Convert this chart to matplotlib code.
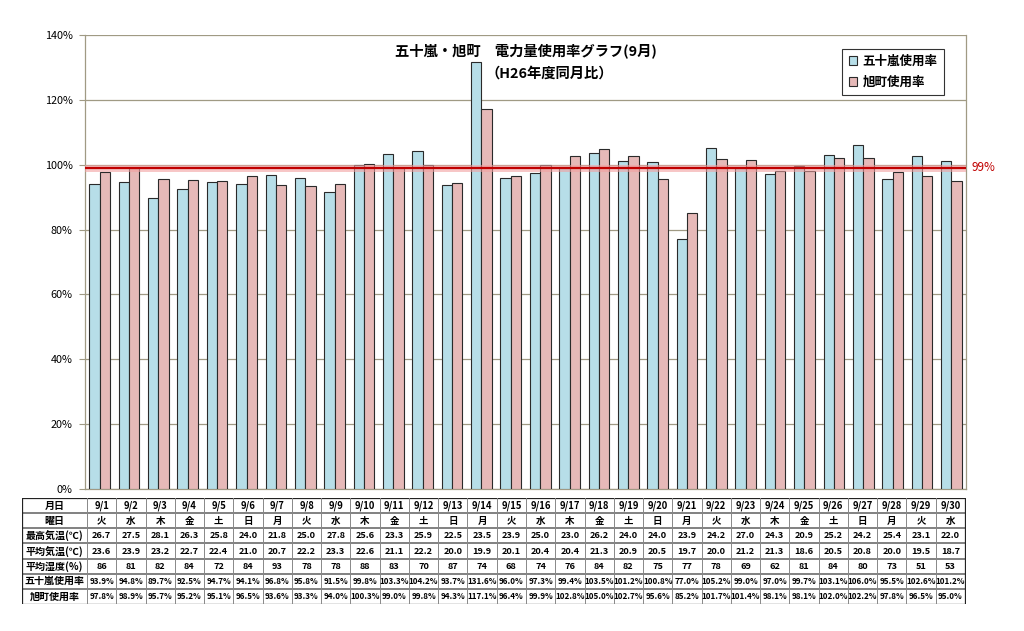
import matplotlib
matplotlib.use("Agg")
import matplotlib.pyplot as plt
import numpy as np

plt.rcParams['font.family'] = ['Noto Sans CJK JP', 'DejaVu Sans']

dates = [f"9/{d}" for d in range(1, 31)]
weekdays = ["火", "水", "木", "金", "土", "日", "月", "火", "水", "木",
            "金", "土", "日", "月", "火", "水", "木", "金", "土", "日",
            "月", "火", "水", "木", "金", "土", "日", "月", "火", "水"]
max_temp = [26.7, 27.5, 28.1, 26.3, 25.8, 24.0, 21.8, 25.0, 27.8, 25.6,
            23.3, 25.9, 22.5, 23.5, 23.9, 25.0, 23.0, 26.2, 24.0, 24.0,
            23.9, 24.2, 27.0, 24.3, 20.9, 25.2, 24.2, 25.4, 23.1, 22.0]
avg_temp = [23.6, 23.9, 23.2, 22.7, 22.4, 21.0, 20.7, 22.2, 23.3, 22.6,
            21.1, 22.2, 20.0, 19.9, 20.1, 20.4, 20.4, 21.3, 20.9, 20.5,
            19.7, 20.0, 21.2, 21.3, 18.6, 20.5, 20.8, 20.0, 19.5, 18.7]
humidity = [86, 81, 82, 84, 72, 84, 93, 78, 78, 88,
            83, 70, 87, 74, 68, 74, 76, 84, 82, 75,
            77, 78, 69, 62, 81, 84, 80, 73, 51, 53]
igarashi = [93.9, 94.8, 89.7, 92.5, 94.7, 94.1, 96.8, 95.8, 91.5, 99.8,
            103.3, 104.2, 93.7, 131.6, 96.0, 97.3, 99.4, 103.5, 101.2, 100.8,
            77.0, 105.2, 99.0, 97.0, 99.7, 103.1, 106.0, 95.5, 102.6, 101.2]
asahi = [97.8, 98.9, 95.7, 95.2, 95.1, 96.5, 93.6, 93.3, 94.0, 100.3,
         99.0, 99.8, 94.3, 117.1, 96.4, 99.9, 102.8, 105.0, 102.7, 95.6,
         85.2, 101.7, 101.4, 98.1, 98.1, 102.0, 102.2, 97.8, 96.5, 95.0]
target = 99
series_names = ["五十嵐使用率", "旭町使用率"]
yticks = [0, 20, 40, 60, 80, 100, 120, 140]
row_labels = ["月日", "曜日", "最高気温(℃)", "平均気温(℃)", "平均湿度(%)", "五十嵐使用率", "旭町使用率"]

W, H = 1024, 631
fig = plt.figure(figsize=(W/100, H/100), dpi=100)
fig.patch.set_facecolor('white')

L, R, T, B = 85, 966, 35, 489
ax = fig.add_axes([L/W, 1-B/H, (R-L)/W, (B-T)/H])
x = np.arange(len(dates))
bw = 0.352
gridc = '#a09a84'
ax.bar(x - bw/2, igarashi, bw, color='#b7dee8', edgecolor='#2a2a2a', linewidth=0.8,
       label=series_names[0], zorder=3)
ax.bar(x + bw/2, asahi, bw, color='#e6b9b8', edgecolor='#2a2a2a', linewidth=0.8,
       label=series_names[1], zorder=3)
ax.axhline(target, color='#f2a0a0', linewidth=5, alpha=0.6, zorder=4)
ax.axhline(target, color='#c00000', linewidth=1.6, zorder=5)
ax.set_xlim(-0.5, len(dates) - 0.5)
ax.set_ylim(0, 140)
ax.set_yticks(yticks)
ax.set_yticklabels([f"{v}%" for v in yticks], fontsize=7.8)
ax.set_xticks([])
ax.tick_params(axis='y', length=4, color=gridc, pad=5)
ax.yaxis.grid(True, color=gridc, linewidth=0.9, zorder=0)
for s in ax.spines.values():
    s.set_color(gridc)
    s.set_linewidth(0.9)
ax.spines['top'].set_visible(False)
ax.text(1.006, target, f"{target}%", transform=ax.get_yaxis_transform(),
        color='#c00000', fontsize=8.5, va='center', ha='left')
ax.text(0.5, 0.965, "五十嵐・旭町　電力量使用率グラフ(9月)", transform=ax.transAxes,
        ha='center', va='center', fontsize=10.3, fontweight='bold')
ax.text(0.455, 0.915, "（H26年度同月比）", transform=ax.transAxes,
        ha='left', va='center', fontsize=10.3, fontweight='bold')
leg = ax.legend(loc='upper right', bbox_to_anchor=(0.9817, 0.983), fontsize=9,
                frameon=True, fancybox=False, edgecolor='black', handlelength=0.7,
                handleheight=0.7, borderpad=0.5, labelspacing=0.6, handletextpad=0.4)
leg.get_frame().set_linewidth(0.8)
for t in leg.get_texts():
    t.set_fontweight('bold')

# table
tL, tR, tT, tB = 22, 966, 498, 604
tax = fig.add_axes([tL/W, 1-tB/H, (tR-tL)/W, (tB-tT)/H])
tax.set_xlim(tL, tR)
tax.set_ylim(tB, tT)
tax.axis('off')
labw_end = 87
n = len(dates)
colw = (965 - labw_end) / n
rows = [dates, weekdays, [f"{v:.1f}" for v in max_temp], [f"{v:.1f}" for v in avg_temp],
        [f"{v}" for v in humidity], [f"{v:.1f}%" for v in igarashi], [f"{v:.1f}%" for v in asahi]]
nr = len(rows)
rh = (tB - tT) / nr
for i in range(nr + 1):
    y = tT + i * rh
    tax.plot([tL, 965], [y, y], color='#222222' if i in (0, nr) else '#777777',
             linewidth=0.9 if i in (0, nr) else 1.3, solid_capstyle='butt')
xs = [tL, labw_end] + [labw_end + colw * (j + 1) for j in range(n)]
for j, xv in enumerate(xs):
    tax.plot([xv, xv], [tT, tB], color='#222222' if j in (0, len(xs)-1) else '#888888',
             linewidth=0.9 if j in (0, len(xs)-1) else 0.7)
for i, (lab, vals) in enumerate(zip(row_labels, rows)):
    yc = tT + (i + 0.5) * rh
    tax.text((tL + labw_end) / 2, yc, lab, ha='center', va='center', fontsize=7.2,
             fontweight='bold')
    for j, v in enumerate(vals):
        xc = labw_end + colw * (j + 0.5)
        if i in (0, 1):
            fs = 6.8
        elif i >= 5:
            fs = 5.8
        else:
            fs = 6.6
        tax.text(xc, yc, v, ha='center', va='center', fontsize=fs, fontweight='bold')

fig.savefig("out.png", dpi=100, facecolor='white')
